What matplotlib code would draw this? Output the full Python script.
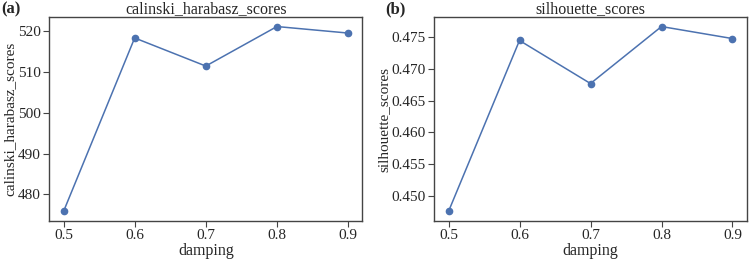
import matplotlib
matplotlib.use("Agg")
import matplotlib.pyplot as plt
from matplotlib.ticker import MultipleLocator, FormatStrFormatter
import seaborn as sns

sns.set_style("ticks")
plt.rcParams['font.family'] = ['Liberation Serif', 'DejaVu Serif']

damping = [0.5, 0.6, 0.7, 0.8, 0.9]
calinski_harabasz_scores = [475.8, 518.4, 511.5, 521.2, 519.6]
silhouette_scores = [0.4475, 0.4745, 0.4677, 0.4767, 0.4748]

panels = [
    ("calinski_harabasz_scores", calinski_harabasz_scores, "(a)", 10, "%d"),
    ("silhouette_scores", silhouette_scores, "(b)", 0.005, "%.3f"),
]

fig = plt.figure(figsize=(7.49, 2.63), dpi=100)
boxes = [[49.3 / 749, 1 - 220.7 / 263, 313 / 749, 203.4 / 263],
         [434.3 / 749, 1 - 220.7 / 263, 312.4 / 749, 203.4 / 263]]
tag_x = [1 / 749, 385 / 749]

for i, (box, (name, vals, tag, step, fmt)) in enumerate(zip(boxes, panels)):
    ax = fig.add_axes(box)
    ax.plot(damping, vals, marker='o', color='#4C72B0', markersize=4.5, linewidth=1.1)
    ax.set_title(name, fontsize=11.5, pad=3)
    ax.set_xlabel("damping", fontsize=11.5, labelpad=1)
    ax.set_ylabel(name, fontsize=11, labelpad=1)
    ax.set_xticks(damping)
    ax.yaxis.set_major_locator(MultipleLocator(step))
    ax.yaxis.set_major_formatter(FormatStrFormatter(fmt))
    ax.tick_params(labelsize=11, length=4, color='#444444', pad=2)
    for s in ax.spines.values():
        s.set_color('#444444')
        s.set_linewidth(1.0)
    fig.text(tag_x[i], 0.995, tag, fontsize=12, fontweight='bold', va='top', ha='left')

fig.savefig("out.png", dpi=100)
